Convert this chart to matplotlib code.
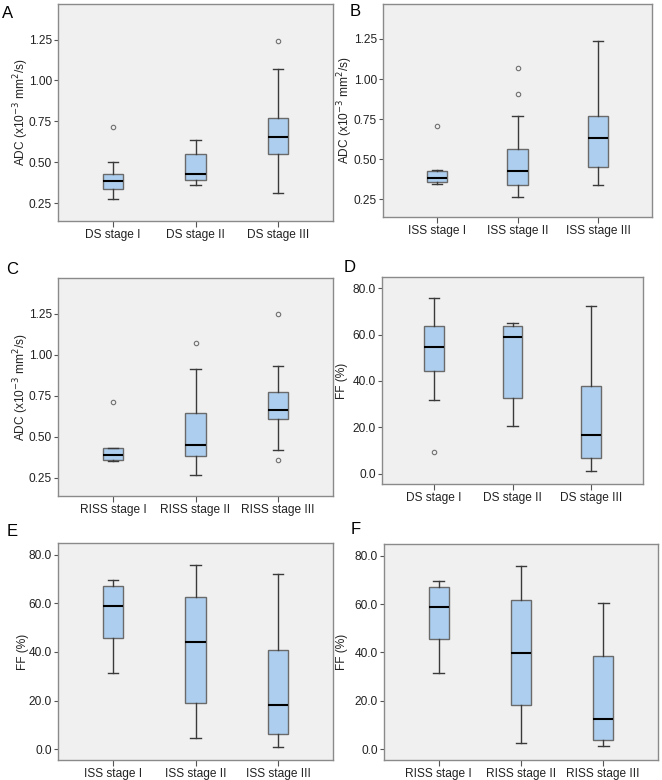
import matplotlib
matplotlib.use('Agg')
import matplotlib.pyplot as plt

plt.rcParams['font.family'] = ['Liberation Sans', 'DejaVu Sans']

# ---------------- data ----------------
ds_labels = ['DS stage I', 'DS stage II', 'DS stage III']
iss_labels = ['ISS stage I', 'ISS stage II', 'ISS stage III']
riss_labels = ['RISS stage I', 'RISS stage II', 'RISS stage III']

adc_ds_low = [0.272, 0.362, 0.313]
adc_ds_q1 = [0.337, 0.388, 0.551]
adc_ds_med = [0.382, 0.429, 0.652]
adc_ds_q3 = [0.429, 0.547, 0.770]
adc_ds_high = [0.500, 0.634, 1.071]
adc_ds_out = [[0.713], [], [1.24]]

adc_iss_low = [0.346, 0.267, 0.340]
adc_iss_q1 = [0.357, 0.340, 0.449]
adc_iss_med = [0.382, 0.424, 0.631]
adc_iss_q3 = [0.428, 0.564, 0.767]
adc_iss_high = [0.430, 0.769, 1.240]
adc_iss_out = [[0.706], [1.07, 0.909], []]

adc_riss_low = [0.351, 0.270, 0.422]
adc_riss_q1 = [0.361, 0.381, 0.611]
adc_riss_med = [0.388, 0.449, 0.663]
adc_riss_q3 = [0.431, 0.648, 0.774]
adc_riss_high = [0.431, 0.912, 0.930]
adc_riss_out = [[0.714], [1.075], [1.246, 0.361]]

ff_ds_low = [31.8, 20.4, 1.4]
ff_ds_q1 = [44.3, 32.8, 7.0]
ff_ds_med = [54.6, 58.8, 16.5]
ff_ds_q3 = [63.8, 63.5, 37.7]
ff_ds_high = [75.7, 64.9, 72.1]
ff_ds_out = [[9.6], [], []]

ff_iss_low = [31.3, 4.8, 1.1]
ff_iss_q1 = [45.7, 19.2, 6.4]
ff_iss_med = [59.0, 44.3, 18.3]
ff_iss_q3 = [67.0, 62.7, 40.9]
ff_iss_high = [69.6, 75.8, 72.2]
ff_iss_out = [[], [], []]

ff_riss_low = [31.4, 2.7, 1.2]
ff_riss_q1 = [45.7, 18.5, 3.9]
ff_riss_med = [58.9, 39.9, 12.4]
ff_riss_q3 = [66.9, 61.6, 38.5]
ff_riss_high = [69.5, 75.6, 60.3]
ff_riss_out = [[], [], []]

adc_ticks = [0.25, 0.50, 0.75, 1.00, 1.25]
adc_ticklabels = ['0.25', '0.50', '0.75', '1.00', '1.25']
ff_ticks = [0, 20, 40, 60, 80]
ff_ticklabels = ['0.0', '20.0', '40.0', '60.0', '80.0']

# ---------------- style ----------------
W, H = 662, 780
BG = '#F0F0F0'
FRAME = '#8A8A8A'
FACE = '#ADCEEE'
EDGE = '#6A6A6A'
WHISK = '#3A3A3A'
FS = 8.6

fig = plt.figure(figsize=(W / 100, H / 100), dpi=100)


def px_axes(x0, y0, x1, y1):
    return fig.add_axes([x0 / W, 1 - y1 / H, (x1 - x0) / W, (y1 - y0) / H])


def build_stats(labels, low, q1, med, q3, high, out):
    stats = []
    for i in range(len(labels)):
        stats.append(dict(label=labels[i], whislo=low[i], q1=q1[i], med=med[i],
                          q3=q3[i], whishi=high[i], fliers=out[i]))
    return stats


panels = [
    ('A', (58, 4, 333, 221), ds_labels, (adc_ds_low, adc_ds_q1, adc_ds_med, adc_ds_q3, adc_ds_high, adc_ds_out), 'adc', (2, 13), 21),
    ('B', (383, 4, 652, 217), iss_labels, (adc_iss_low, adc_iss_q1, adc_iss_med, adc_iss_q3, adc_iss_high, adc_iss_out), 'adc', (350, 12), 345),
    ('C', (58, 278, 333, 496), riss_labels, (adc_riss_low, adc_riss_q1, adc_riss_med, adc_riss_q3, adc_riss_high, adc_riss_out), 'adc', (6, 270), 21),
    ('D', (382, 277, 643, 484), ds_labels, (ff_ds_low, ff_ds_q1, ff_ds_med, ff_ds_q3, ff_ds_high, ff_ds_out), 'ff', (344, 268), 342),
    ('E', (58, 543, 333, 760), iss_labels, (ff_iss_low, ff_iss_q1, ff_iss_med, ff_iss_q3, ff_iss_high, ff_iss_out), 'ff', (7, 532), 23),
    ('F', (384, 544, 658, 760), riss_labels, (ff_riss_low, ff_riss_q1, ff_riss_med, ff_riss_q3, ff_riss_high, ff_riss_out), 'ff', (351, 529), 342),
]

for letter, box, labels, vals, kind, lpos, ylx in panels:
    ax = px_axes(*box)
    ax.set_facecolor(BG)
    stats = build_stats(labels, *vals)
    ax.bxp(stats, positions=[1, 2, 3], widths=0.25, capwidths=0.13,
           patch_artist=True, showfliers=True,
           boxprops=dict(facecolor=FACE, edgecolor=EDGE, linewidth=1.0),
           medianprops=dict(color='black', linewidth=1.5),
           whiskerprops=dict(color=WHISK, linewidth=1.0),
           capprops=dict(color=WHISK, linewidth=1.0),
           flierprops=dict(marker='o', markersize=3.2, markerfacecolor='none',
                           markeredgecolor='#707070', markeredgewidth=0.8))
    ax.set_xlim(1 / 3, 11 / 3)
    if kind == 'adc':
        ax.set_ylim(0.14, 1.468)
        ax.set_yticks(adc_ticks)
        ax.set_yticklabels(adc_ticklabels)
        ylab = 'ADC (x10$^{-3}$ mm$^{2}$/s)'
    else:
        ax.set_ylim(-4.4, 84.8)
        ax.set_yticks(ff_ticks)
        ax.set_yticklabels(ff_ticklabels)
        ylab = 'FF (%)'
    ax.set_xticks([1, 2, 3])
    ax.set_xticklabels(labels)
    for s in ax.spines.values():
        s.set_color(FRAME)
        s.set_linewidth(1.0)
    ax.tick_params(axis='y', direction='out', length=3, width=0.8,
                   color='#555555', labelsize=FS, labelcolor='#222222', pad=1.5)
    ax.tick_params(axis='x', direction='out', length=4, width=0.8,
                   color='#555555', labelsize=FS, labelcolor='#222222', pad=1.5)
    cy = (box[1] + box[3]) / 2
    fig.text(ylx / W, 1 - cy / H, ylab, rotation=90, ha='center', va='center',
             fontsize=FS, color='#222222')
    fig.text(lpos[0] / W, 1 - lpos[1] / H, letter, ha='left', va='center',
             fontsize=12, color='black')

fig.savefig('out.png', dpi=100, facecolor='white')
